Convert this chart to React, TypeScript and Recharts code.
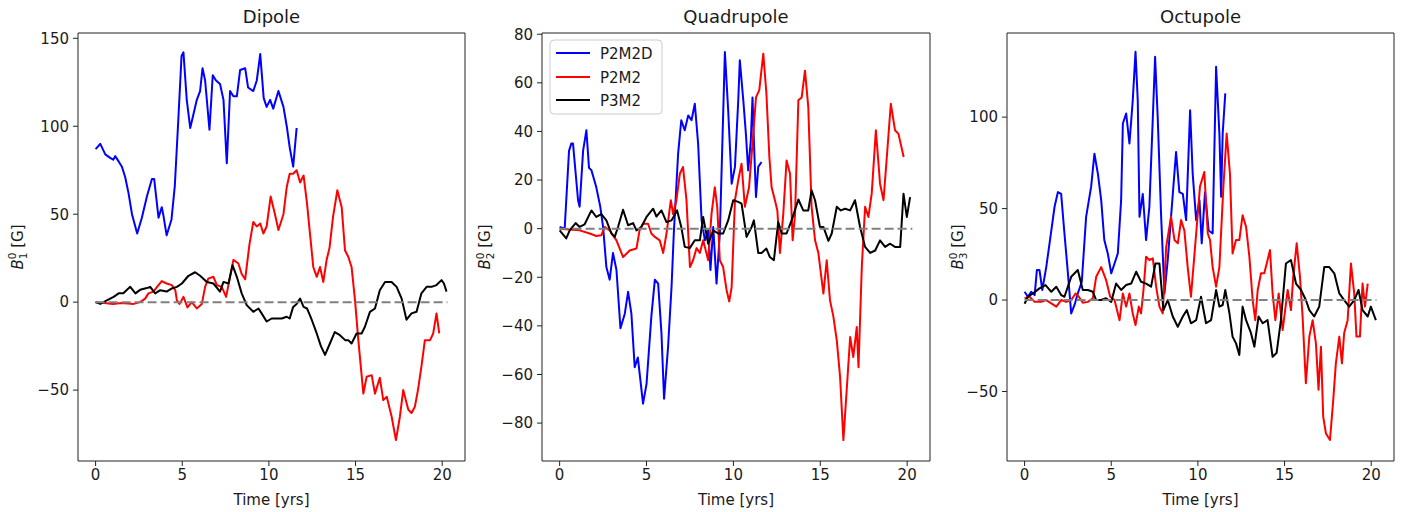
import React from 'react';
import { LineChart, Line, XAxis, YAxis, ReferenceArea } from 'recharts';

type P = [number, number];

const X_TICKS = [0, 5, 10, 15, 20];
const X_DOMAIN: [number, number] = [-1.015, 21.315];
const SERIES_NAMES = ['P2M2D', 'P2M2', 'P3M2'];
const SERIES_COLORS = ['#0000ff', '#ff0000', '#000000'];
const ZERO_LINE: P[] = [[0, 0], [20.3, 0]];

const DIPOLE_P2M2D: P[] = [[0,87],[0.27,90],[0.56,84],[0.84,82],[1.02,81],[1.13,83],[1.33,80],[1.52,77],[1.71,71],[1.9,62],[2.1,50],[2.4,39],[2.67,48],[2.96,60],[3.25,70],[3.38,70],[3.63,48],[3.82,54],[3.9,50],[4.1,38],[4.38,47],[4.57,66],[4.78,105],[4.96,140],[5.07,142],[5.26,115],[5.46,99],[5.65,107],[5.84,115],[6.03,120],[6.17,133],[6.32,126],[6.57,98],[6.76,129],[6.95,126],[7.18,124],[7.38,115],[7.57,79],[7.76,120],[7.95,117],[8.15,117],[8.34,132],[8.63,133],[8.8,122],[9.1,120],[9.3,126],[9.5,141],[9.7,116],[9.87,111],[10.07,115],[10.25,110],[10.55,120],[10.84,111],[11.03,100],[11.2,88],[11.4,77],[11.6,99]];
const DIPOLE_P2M2: P[] = [[0,0],[0.5,-0.5],[1.0,-1],[1.5,-0.5],[2.2,-1],[2.57,0],[2.86,2],[3.05,5],[3.34,6],[3.57,9],[3.82,12],[4.1,10.6],[4.4,9.7],[4.6,6.8],[4.69,1],[4.84,-1],[5.07,3],[5.3,-3],[5.55,0],[5.84,-3.6],[6.13,-1],[6.32,8.7],[6.5,13.4],[6.8,14.4],[7.0,9.7],[7.28,8.7],[7.53,3],[7.76,14.4],[7.95,24],[8.24,22],[8.43,16],[8.63,13],[8.88,33],[9.1,45.6],[9.3,43],[9.5,44.7],[9.68,39],[9.87,43],[10.1,60],[10.35,50],[10.55,41],[10.84,50],[11.03,65.5],[11.2,73],[11.4,73],[11.6,75],[11.8,68],[12.0,72],[12.2,56],[12.37,39],[12.56,20],[12.76,14.4],[12.95,20],[13.14,11.5],[13.33,24],[13.5,31],[13.7,48.5],[13.95,63.6],[14.2,54],[14.39,29.5],[14.58,25.8],[14.77,20],[14.97,1],[15.16,-21.6],[15.45,-52],[15.64,-42.4],[15.93,-41.5],[16.12,-52],[16.4,-43],[16.6,-55.7],[16.8,-53.8],[17.08,-65],[17.33,-78.4],[17.56,-65],[17.75,-50],[18.04,-61],[18.23,-63],[18.42,-59.5],[18.6,-50],[18.8,-36.7],[19.0,-21.6],[19.3,-21.6],[19.48,-17.8],[19.67,-6.4],[19.83,-17.8]];
const DIPOLE_P3M2: P[] = [[0,0],[0.27,-1],[0.65,1],[1.04,3],[1.33,5],[1.6,5],[2.0,8.7],[2.3,5],[2.57,7],[2.96,8],[3.15,8.7],[3.44,5],[3.73,6.8],[4.1,6],[4.4,7.8],[4.69,8.7],[4.98,10.6],[5.36,15],[5.74,17],[6.03,15],[6.42,11.5],[6.8,10.6],[7.18,6],[7.38,11.5],[7.67,10.6],[7.9,21],[8.15,14.4],[8.43,5],[8.72,-1.7],[9.1,-5.5],[9.4,-3.6],[9.58,-6.4],[9.87,-11],[10.16,-9.3],[10.45,-9.3],[10.74,-9.3],[11.03,-8.3],[11.2,-9.3],[11.4,-2.7],[11.6,-1],[11.8,2],[12.0,-2.7],[12.2,-3.6],[12.47,-10],[12.76,-17.8],[13.0,-25],[13.24,-30],[13.52,-23.5],[13.8,-17],[14.1,-18.8],[14.4,-21.6],[14.58,-21.6],[14.77,-23.5],[15.06,-17.8],[15.35,-17.8],[15.54,-14],[15.83,-5.5],[16.12,-3.6],[16.4,6.8],[16.7,11.5],[17.08,11.5],[17.37,8.7],[17.66,2],[17.94,-10],[18.23,-6.4],[18.52,-5.5],[18.8,5],[19.1,8.7],[19.38,8.7],[19.67,9.7],[19.96,12.5],[20.1,10.6],[20.25,6]];

const QUAD_P2M2D: P[] = [[0,0.7],[0.29,0],[0.54,32],[0.67,35],[0.77,35],[1.06,11.7],[1.15,9],[1.35,32],[1.54,40.5],[1.69,25],[1.83,24],[2.11,17],[2.34,9],[2.5,0.7],[2.69,-15.8],[2.88,-21],[3.07,-10],[3.27,-17],[3.5,-41],[3.75,-35],[3.94,-26],[4.13,-35],[4.32,-57],[4.5,-53],[4.8,-72],[5.0,-64],[5.28,-36],[5.48,-21],[5.67,-22.6],[5.86,-43],[6.01,-70],[6.24,-48.7],[6.44,-24],[6.57,-2],[6.82,31],[7.0,44.6],[7.2,40.5],[7.4,46.6],[7.59,44.6],[7.78,51.4],[7.97,35],[8.17,3.4],[8.36,-4.8],[8.55,-0.7],[8.68,-17],[8.84,0.7],[9.03,-22.6],[9.22,-2],[9.38,39],[9.51,72.7],[9.7,48.7],[9.9,18.5],[10.09,25.4],[10.28,52.8],[10.37,69.3],[10.57,52.8],[10.72,39],[10.85,24],[11.0,36],[11.1,54],[11.18,36],[11.3,13],[11.43,25.4],[11.62,27.4]];
const QUAD_P2M2: P[] = [[0,0],[0.58,-0.4],[1.15,-0.7],[1.73,-2],[2.11,-3],[2.4,-2.7],[2.6,0.7],[2.88,-0.7],[3.27,-4.8],[3.65,-11.7],[4.03,-9],[4.42,-8.2],[4.6,-0.7],[4.8,2],[5.09,2],[5.28,-2],[5.48,-3.4],[5.76,-4.8],[5.96,-10],[6.15,-2],[6.4,11.7],[6.53,6],[6.72,11.7],[6.92,22.6],[7.1,25.4],[7.3,11.7],[7.5,-15.8],[7.68,-13],[7.88,-8],[8.07,-10],[8.26,-4.8],[8.55,-13],[8.74,6],[8.93,17],[9.07,9],[9.22,-13],[9.41,-15.8],[9.6,-25],[9.76,-30],[9.9,-24],[10.09,11.7],[10.28,20],[10.47,26.7],[10.66,9],[10.9,17],[11.1,35],[11.3,54],[11.49,57],[11.72,72],[11.9,55.6],[12.07,29.5],[12.2,17],[12.39,11.7],[12.53,7.5],[12.68,-10],[12.87,6],[13.06,28],[13.26,22.6],[13.41,-4.8],[13.55,6],[13.74,52.8],[13.93,54],[14.12,65],[14.31,50],[14.5,9],[14.7,-4.8],[14.89,-10],[15.18,-26.7],[15.37,-13],[15.56,-29.5],[15.75,-36],[15.95,-46],[16.14,-61],[16.33,-87],[16.52,-66.5],[16.72,-44.6],[16.9,-52.8],[17.1,-40.5],[17.2,-57],[17.39,-15.8],[17.58,9],[17.77,4.8],[17.96,14.4],[18.2,40.5],[18.44,18.5],[18.64,11.7],[18.83,29.5],[19.06,51.4],[19.3,40.5],[19.5,39],[19.8,29.5]];
const QUAD_P3M2: P[] = [[0,-0.7],[0.38,-4],[0.58,-0.7],[0.92,2.3],[1.15,0.7],[1.44,1.8],[1.83,7.5],[2.11,4.8],[2.4,6],[2.69,3.4],[2.98,-2],[3.17,-3.4],[3.36,0.7],[3.65,7.8],[3.94,1.4],[4.23,2.3],[4.42,-0.7],[4.7,0.7],[5.0,4.8],[5.38,8.2],[5.57,5],[5.86,7.5],[6.15,2.7],[6.44,3.4],[6.76,7.5],[7.0,0.7],[7.2,-7.5],[7.49,-8],[7.78,-4.8],[8.07,-4.8],[8.26,4.8],[8.55,-6.2],[8.84,-0.7],[9.13,-2],[9.41,-2],[9.7,3.4],[9.99,11.7],[10.28,11],[10.47,10.3],[10.76,-3.4],[11.05,0.7],[11.18,3.4],[11.43,-10],[11.62,-10],[11.9,-8.2],[12.1,-11.7],[12.33,-13],[12.58,2.7],[12.78,-2],[13.06,-2],[13.35,3.4],[13.74,12],[14.02,7.5],[14.31,7.5],[14.5,15.8],[14.7,11.7],[14.98,0.7],[15.18,0.7],[15.47,-5],[15.66,-2],[15.95,9],[16.18,7.5],[16.43,8.2],[16.72,7.5],[17.0,11.7],[17.29,0.7],[17.58,-7.5],[17.87,-10],[18.16,-9],[18.44,-4.8],[18.73,-7.5],[19.02,-6.2],[19.3,-7.5],[19.6,-7.5],[19.79,14.4],[19.98,4.8],[20.17,13]];

const OCT_P2M2D: P[] = [[0,4.5],[0.19,1.8],[0.38,4.5],[0.58,2.7],[0.71,16.4],[0.86,16.4],[1.02,5.5],[1.25,18],[1.44,31],[1.73,51],[1.92,59],[2.11,58],[2.3,36.4],[2.5,14.6],[2.69,-7.3],[2.88,-2.7],[3.07,3.6],[3.3,10],[3.55,45.5],[3.84,62],[4.03,80],[4.23,69],[4.42,54.6],[4.6,32.8],[4.8,25.5],[5.0,14.6],[5.19,20],[5.38,25.5],[5.57,54.6],[5.67,96.5],[5.86,102],[6.05,85.6],[6.24,109],[6.4,135.7],[6.53,109],[6.63,45.5],[6.82,58],[7.01,32.8],[7.2,51],[7.4,100],[7.53,133],[7.68,100],[7.88,45.5],[8.07,3.6],[8.26,21.9],[8.45,45.5],[8.74,81],[8.93,59],[9.13,58],[9.32,43.7],[9.55,103.8],[9.7,69],[9.9,43.7],[10.09,54.6],[10.22,31],[10.41,59],[10.62,38],[10.85,36.4],[11.05,127.5],[11.24,91],[11.34,56.5],[11.43,91],[11.58,113]];
const OCT_P2M2: P[] = [[0,1],[0.29,1.8],[0.58,-1],[0.96,-1],[1.25,0],[1.54,-1.8],[1.83,-3.6],[2.11,0],[2.4,-1],[2.69,0],[2.94,3.6],[3.13,1.8],[3.36,-1.5],[3.65,-1],[3.94,1],[4.13,12.7],[4.42,18],[4.7,11],[4.94,1.8],[5.19,0],[5.38,-7.3],[5.48,-11],[5.67,3.6],[5.86,-3.6],[6.05,3.6],[6.24,-7.3],[6.4,-13.7],[6.59,-3.6],[6.72,-7.3],[6.86,5.5],[7.01,23.7],[7.2,21.9],[7.4,22.8],[7.59,7.3],[7.78,-3.6],[7.97,-7.3],[8.17,29],[8.45,45.5],[8.65,32.8],[8.84,31],[9.03,43.7],[9.22,38],[9.41,18],[9.6,1.8],[9.9,36.4],[10.12,62],[10.37,70],[10.57,36.4],[10.7,32.8],[10.85,18],[11.05,7.3],[11.24,18],[11.47,62],[11.66,91],[11.85,69],[12.0,25.5],[12.2,32.8],[12.39,32.8],[12.58,46.4],[12.78,40],[12.97,23.7],[13.16,0],[13.31,-11],[13.45,5.5],[13.64,14.6],[13.83,14.6],[14.02,21.9],[14.16,27.3],[14.31,3.6],[14.47,-11],[14.66,3.6],[14.89,-16.4],[15.18,5.5],[15.37,-5.5],[15.5,12.7],[15.7,31],[15.89,12.7],[16.04,-9],[16.23,-45.5],[16.43,-20],[16.62,-11],[16.81,-23.7],[16.96,-49],[17.1,-25.5],[17.23,-63.8],[17.39,-73],[17.62,-76.5],[17.81,-54.6],[17.96,-34.6],[18.16,-20],[18.31,-34.6],[18.44,-18],[18.64,-11],[18.83,20],[19.02,3.6],[19.15,-20],[19.35,-20],[19.5,9],[19.64,-3.6],[19.8,9]];
const OCT_P3M2: P[] = [[0,-2],[0.19,1.8],[0.48,3.6],[0.86,6.4],[1.21,8.2],[1.54,4.5],[1.83,7.3],[2.11,2.7],[2.3,1.8],[2.69,12.7],[3.07,16.4],[3.36,5.5],[3.65,5.5],[3.94,4.5],[4.13,0],[4.42,0],[4.7,1],[5.0,-1],[5.28,9],[5.57,5.5],[5.86,8.2],[6.15,9],[6.44,15.5],[6.72,10],[7.01,9],[7.3,7.3],[7.55,20],[7.78,20],[8.01,-5.5],[8.26,0],[8.55,-9],[8.84,-14.6],[9.13,-9],[9.36,-5.5],[9.6,-12.7],[9.9,-11],[10.18,1.8],[10.47,-12.7],[10.76,-11],[11.05,5.5],[11.24,-3.6],[11.43,-2.7],[11.58,5.5],[11.82,-7.3],[12.0,-20],[12.2,-23.7],[12.39,-30],[12.58,-3.6],[12.78,-11],[13.06,-18],[13.26,-25.5],[13.5,-9],[13.74,-12.7],[14.02,-11],[14.31,-31],[14.54,-29],[14.79,-11],[15.08,20],[15.37,21.9],[15.66,9],[15.95,5.5],[16.23,0],[16.43,-5.5],[16.71,-9],[17.0,-3.6],[17.29,18],[17.58,18],[17.87,14.6],[18.16,3.6],[18.44,0],[18.73,-3.6],[19.02,0],[19.27,5.5],[19.5,-5.5],[19.8,-9],[19.98,-3.6],[20.27,-11]];

const DIPOLE_Y_TICKS = [-50, 0, 50, 100, 150];
const QUAD_Y_TICKS = [-80, -60, -40, -20, 0, 20, 40, 60, 80];
const OCT_Y_TICKS = [-50, 0, 50, 100];

const FONT = 'DejaVu Sans, sans-serif';
const TXT = '#1a1a1a';
const FS = 15;

const toRows = (arr: P[]) => arr.map(([t, v]) => ({ t, v }));
const fmt = (v: number) => (v < 0 ? '\u2212' + Math.abs(v) : String(v));

interface PanelProps {
  left: number;
  width: number;
  plotLeft: number;
  plotW: number;
  title: string;
  sub: string;
  labelX: number;
  yDomain: [number, number];
  yTicks: number[];
  series: P[][];
}

const PLOT_TOP = 33;
const PLOT_BOTTOM = 461;
const H = 512;
const X_AXIS_H = 45;
const Y_AXIS_W = 50;

function Panel(p: PanelProps) {
  const margin = {
    top: PLOT_TOP,
    left: p.plotLeft - Y_AXIS_W,
    right: p.width - p.plotLeft - p.plotW,
    bottom: H - PLOT_BOTTOM - X_AXIS_H,
  };
  const cx = p.plotLeft + p.plotW / 2;
  const cy = (PLOT_TOP + PLOT_BOTTOM) / 2;
  const texts = () => (
    <g fontFamily={FONT} fill={TXT}>
      <text x={cx} y={23} textAnchor="middle" fontSize={18}>{p.title}</text>
      <text x={cx} y={505} textAnchor="middle" fontSize={FS}>Time [yrs]</text>
      <text x={p.labelX} y={cy} textAnchor="middle" fontSize={FS} transform={`rotate(-90, ${p.labelX}, ${cy})`}>
        <tspan fontStyle="italic">B</tspan>
        <tspan fontSize={10.5} dy={-6.5}>0</tspan>
        <tspan fontSize={10.5} dx={-6.7} dy={10.5}>{p.sub}</tspan>
        <tspan dy={-4}> [G]</tspan>
      </text>
    </g>
  );
  return (
    <div style={{ position: 'absolute', left: p.left, top: 0 }}>
      <LineChart width={p.width} height={H} margin={margin}>
        <XAxis
          type="number"
          dataKey="t"
          domain={X_DOMAIN}
          ticks={X_TICKS}
          allowDataOverflow
          height={X_AXIS_H}
          tickSize={5}
          tickMargin={3}
          axisLine={false}
          tickLine={{ stroke: '#222' }}
          tick={{ fill: TXT, fontSize: FS, fontFamily: FONT }}
          label={{ content: texts }}
        />
        <YAxis
          type="number"
          domain={p.yDomain}
          ticks={p.yTicks}
          allowDataOverflow
          width={Y_AXIS_W}
          tickSize={5}
          tickMargin={4}
          axisLine={false}
          tickLine={{ stroke: '#222' }}
          tickFormatter={fmt}
          tick={{ fill: TXT, fontSize: FS, fontFamily: FONT }}
        />
        {p.series.map((s, i) => (
          <Line
            key={SERIES_NAMES[i]}
            data={toRows(s)}
            dataKey="v"
            name={SERIES_NAMES[i]}
            type="linear"
            stroke={SERIES_COLORS[i]}
            strokeWidth={2}
            dot={false}
            activeDot={false}
            isAnimationActive={false}
            strokeLinejoin="round"
          />
        ))}
        <Line
          data={toRows(ZERO_LINE)}
          dataKey="v"
          type="linear"
          stroke="#808080"
          strokeWidth={2}
          strokeDasharray="9 4"
          dot={false}
          activeDot={false}
          isAnimationActive={false}
        />
        <ReferenceArea
          x1={X_DOMAIN[0]}
          x2={X_DOMAIN[1]}
          y1={p.yDomain[0]}
          y2={p.yDomain[1]}
          stroke="#222"
          strokeWidth={1}
          fill="none"
          fillOpacity={0}
          ifOverflow="visible"
        />
      </LineChart>
    </div>
  );
}

function LegendBox() {
  const rows = [53, 77, 100];
  return (
    <svg
      width={114}
      height={76}
      style={{ position: 'absolute', left: 549, top: 39 }}
    >
      <rect x={1} y={1} width={112} height={74} rx={4} ry={4} fill="rgba(255,255,255,0.8)" stroke="#cccccc" strokeWidth={1} />
      {SERIES_NAMES.map((n, i) => (
        <g key={n}>
          <line x1={7} x2={41} y1={rows[i] - 39} y2={rows[i] - 39} stroke={SERIES_COLORS[i]} strokeWidth={2} />
          <text x={51} y={rows[i] - 39 + 5.5} fontSize={FS} fontFamily={FONT} fill={TXT}>{n}</text>
        </g>
      ))}
    </svg>
  );
}

export default function App() {
  return (
    <div style={{ position: 'absolute', left: 0, top: 0, width: 1413, height: 512, background: '#fff', overflow: 'hidden' }}>
      <Panel left={0} width={470} plotLeft={78} plotW={387} title="Dipole" sub="1" labelX={22.5}
        yDomain={[-90.3, 153]} yTicks={DIPOLE_Y_TICKS} series={[DIPOLE_P2M2D, DIPOLE_P2M2, DIPOLE_P3M2]} />
      <Panel left={470} width={470} plotLeft={72} plotW={388} title="Quadrupole" sub="2" labelX={20}
        yDomain={[-95.6, 80.5]} yTicks={QUAD_Y_TICKS} series={[QUAD_P2M2D, QUAD_P2M2, QUAD_P3M2]} />
      <Panel left={940} width={473} plotLeft={67} plotW={387} title="Octupole" sub="3" labelX={23}
        yDomain={[-88, 146]} yTicks={OCT_Y_TICKS} series={[OCT_P2M2D, OCT_P2M2, OCT_P3M2]} />
      <LegendBox />
    </div>
  );
}
